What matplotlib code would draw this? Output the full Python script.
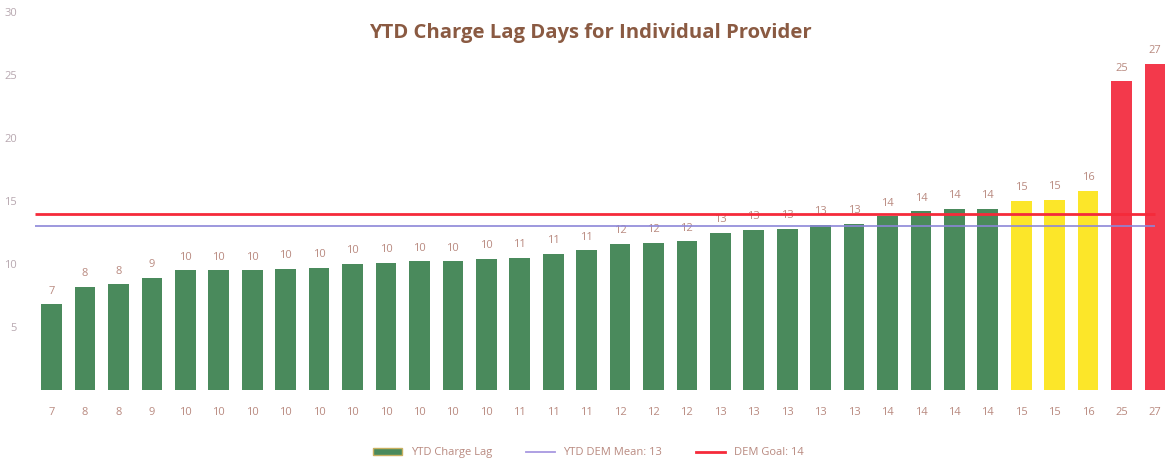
import matplotlib.pyplot as plt
from matplotlib.lines import Line2D
from matplotlib.patches import Patch

plt.rcParams['font.family'] = ['Open Sans', 'DejaVu Sans']

# provider categories (axis shows rounded lag days)
categories = [7, 8, 8, 9, 10, 10, 10, 10, 10, 10, 10, 10, 10, 10, 11, 11, 11,
              12, 12, 12, 13, 13, 13, 13, 13, 14, 14, 14, 14, 15, 15, 16, 25, 27]
lag_days = [6.8, 8.2, 8.4, 8.9, 9.5, 9.5, 9.5, 9.6, 9.7, 10.0, 10.1, 10.2, 10.2,
            10.4, 10.5, 10.8, 11.1, 11.6, 11.7, 11.8, 12.5, 12.7, 12.8, 13.1,
            13.2, 13.8, 14.2, 14.4, 14.4, 15.0, 15.1, 15.8, 24.5, 25.9]
dem_mean = 13
dem_goal = 14

GREEN = '#4a8a5c'
YELLOW = '#fce629'
RED = '#f3394b'
TXT = '#b98a80'


def bar_color(v):
    if v <= dem_goal:
        return GREEN
    if v <= 16:
        return YELLOW
    return RED


colors = [bar_color(c) for c in categories]
x = list(range(len(categories)))

fig = plt.figure(figsize=(11.65, 4.67), dpi=100)
ax = fig.add_axes([0.030, 0.165, 0.970, 0.809])

bars = ax.bar(x, lag_days, width=0.62, color=colors, zorder=2)
for xi, v, c in zip(x, lag_days, categories):
    ax.text(xi, v + 0.6, str(c), ha='center', va='bottom', fontsize=8, color=TXT)

ax.hlines(dem_mean, -0.5, 33, color='#8c86d8', lw=1.2, zorder=3)
ax.hlines(dem_goal, -0.5, 33, color='#f52a3a', lw=2.0, zorder=3)

ax.set_xlim(-0.5, 33.3)
ax.set_ylim(0, 30)
ax.set_yticks([5, 10, 15, 20, 25, 30])
ax.set_xticks(x)
ax.set_xticklabels([str(c) for c in categories])
ax.tick_params(axis='y', length=0, pad=13, labelsize=8, labelcolor='#b8a8b0')
ax.tick_params(axis='x', length=0, pad=12, labelsize=8, labelcolor=TXT)
for s in ax.spines.values():
    s.set_visible(False)

fig.text(0.507, 0.93, 'YTD Charge Lag Days for Individual Provider', ha='center',
         va='center', fontsize=14.6, fontweight='bold', color='#8a5a42')

handles = [Patch(facecolor=GREEN, edgecolor='#c8b060'),
           Line2D([], [], color='#a898e0', lw=1.3),
           Line2D([], [], color='#f52a3a', lw=2)]
labels = ['YTD Charge Lag', 'YTD DEM Mean: %d' % dem_mean, 'DEM Goal: %d' % dem_goal]
fig.legend(handles, labels, loc='center', bbox_to_anchor=(0.505, 0.03), ncol=3,
           frameon=False, fontsize=8, labelcolor=TXT, handlelength=2.6,
           handleheight=0.6, columnspacing=3)

fig.savefig('out.png', dpi=100)
